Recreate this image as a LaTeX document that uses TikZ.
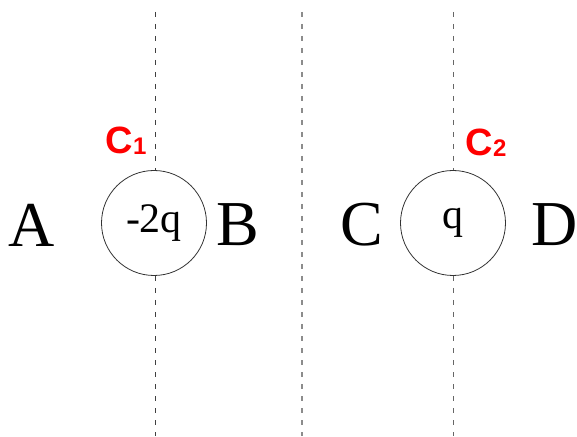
\documentclass[tikz,border=0pt]{standalone}
\usepackage{fontspec}
\setmainfont{Liberation Serif}
\setsansfont{Liberation Sans}
\begin{document}
\begin{tikzpicture}[x=1pt, y=1pt,
    plane/.style={black!75, line width=1pt, dash pattern=on 5pt off 7pt},
    charge/.style={draw=black!80, fill=white, circle, line width=0.8pt, minimum size=105pt, inner sep=0pt, font=\fontsize{42}{42}\selectfont},
    region/.style={font=\fontsize{64}{64}\selectfont},
    clabel/.style={text=red, font=\sffamily\bfseries\fontsize{38}{38}\selectfont}
]
    \useasboundingbox (0,0) rectangle (577,436);

    \coordinate (top1) at (155,424);
    \coordinate (bot1) at (155,0);
    \coordinate (top2) at (302,424);
    \coordinate (bot2) at (302,0);
    \coordinate (top3) at (453,424);
    \coordinate (bot3) at (453,0);

    \draw[plane] (top1) -- (bot1);
    \draw[plane, black!45, line width=1.3pt] (top2) -- (bot2);
    \draw[plane, black!60, line width=0.8pt] (top3) -- (bot3);

    \node[charge] (q1) at (154,213) {-2q};
    \node[charge] (q2) at (453,213) {q};

    \node[region] (A) at (32,211) {A};
    \node[region] (B) at (238,211) {B};
    \node[region] (C) at (362,211) {C};
    \node[region] (D) at (555,211) {D};

    \node[clabel] (c1) at (126,295) {C\raisebox{-1pt}{\fontsize{24}{24}\selectfont 1}};
    \node[clabel] (c2) at (486,293) {C\raisebox{-1pt}{\fontsize{24}{24}\selectfont 2}};
\end{tikzpicture}
\end{document}
